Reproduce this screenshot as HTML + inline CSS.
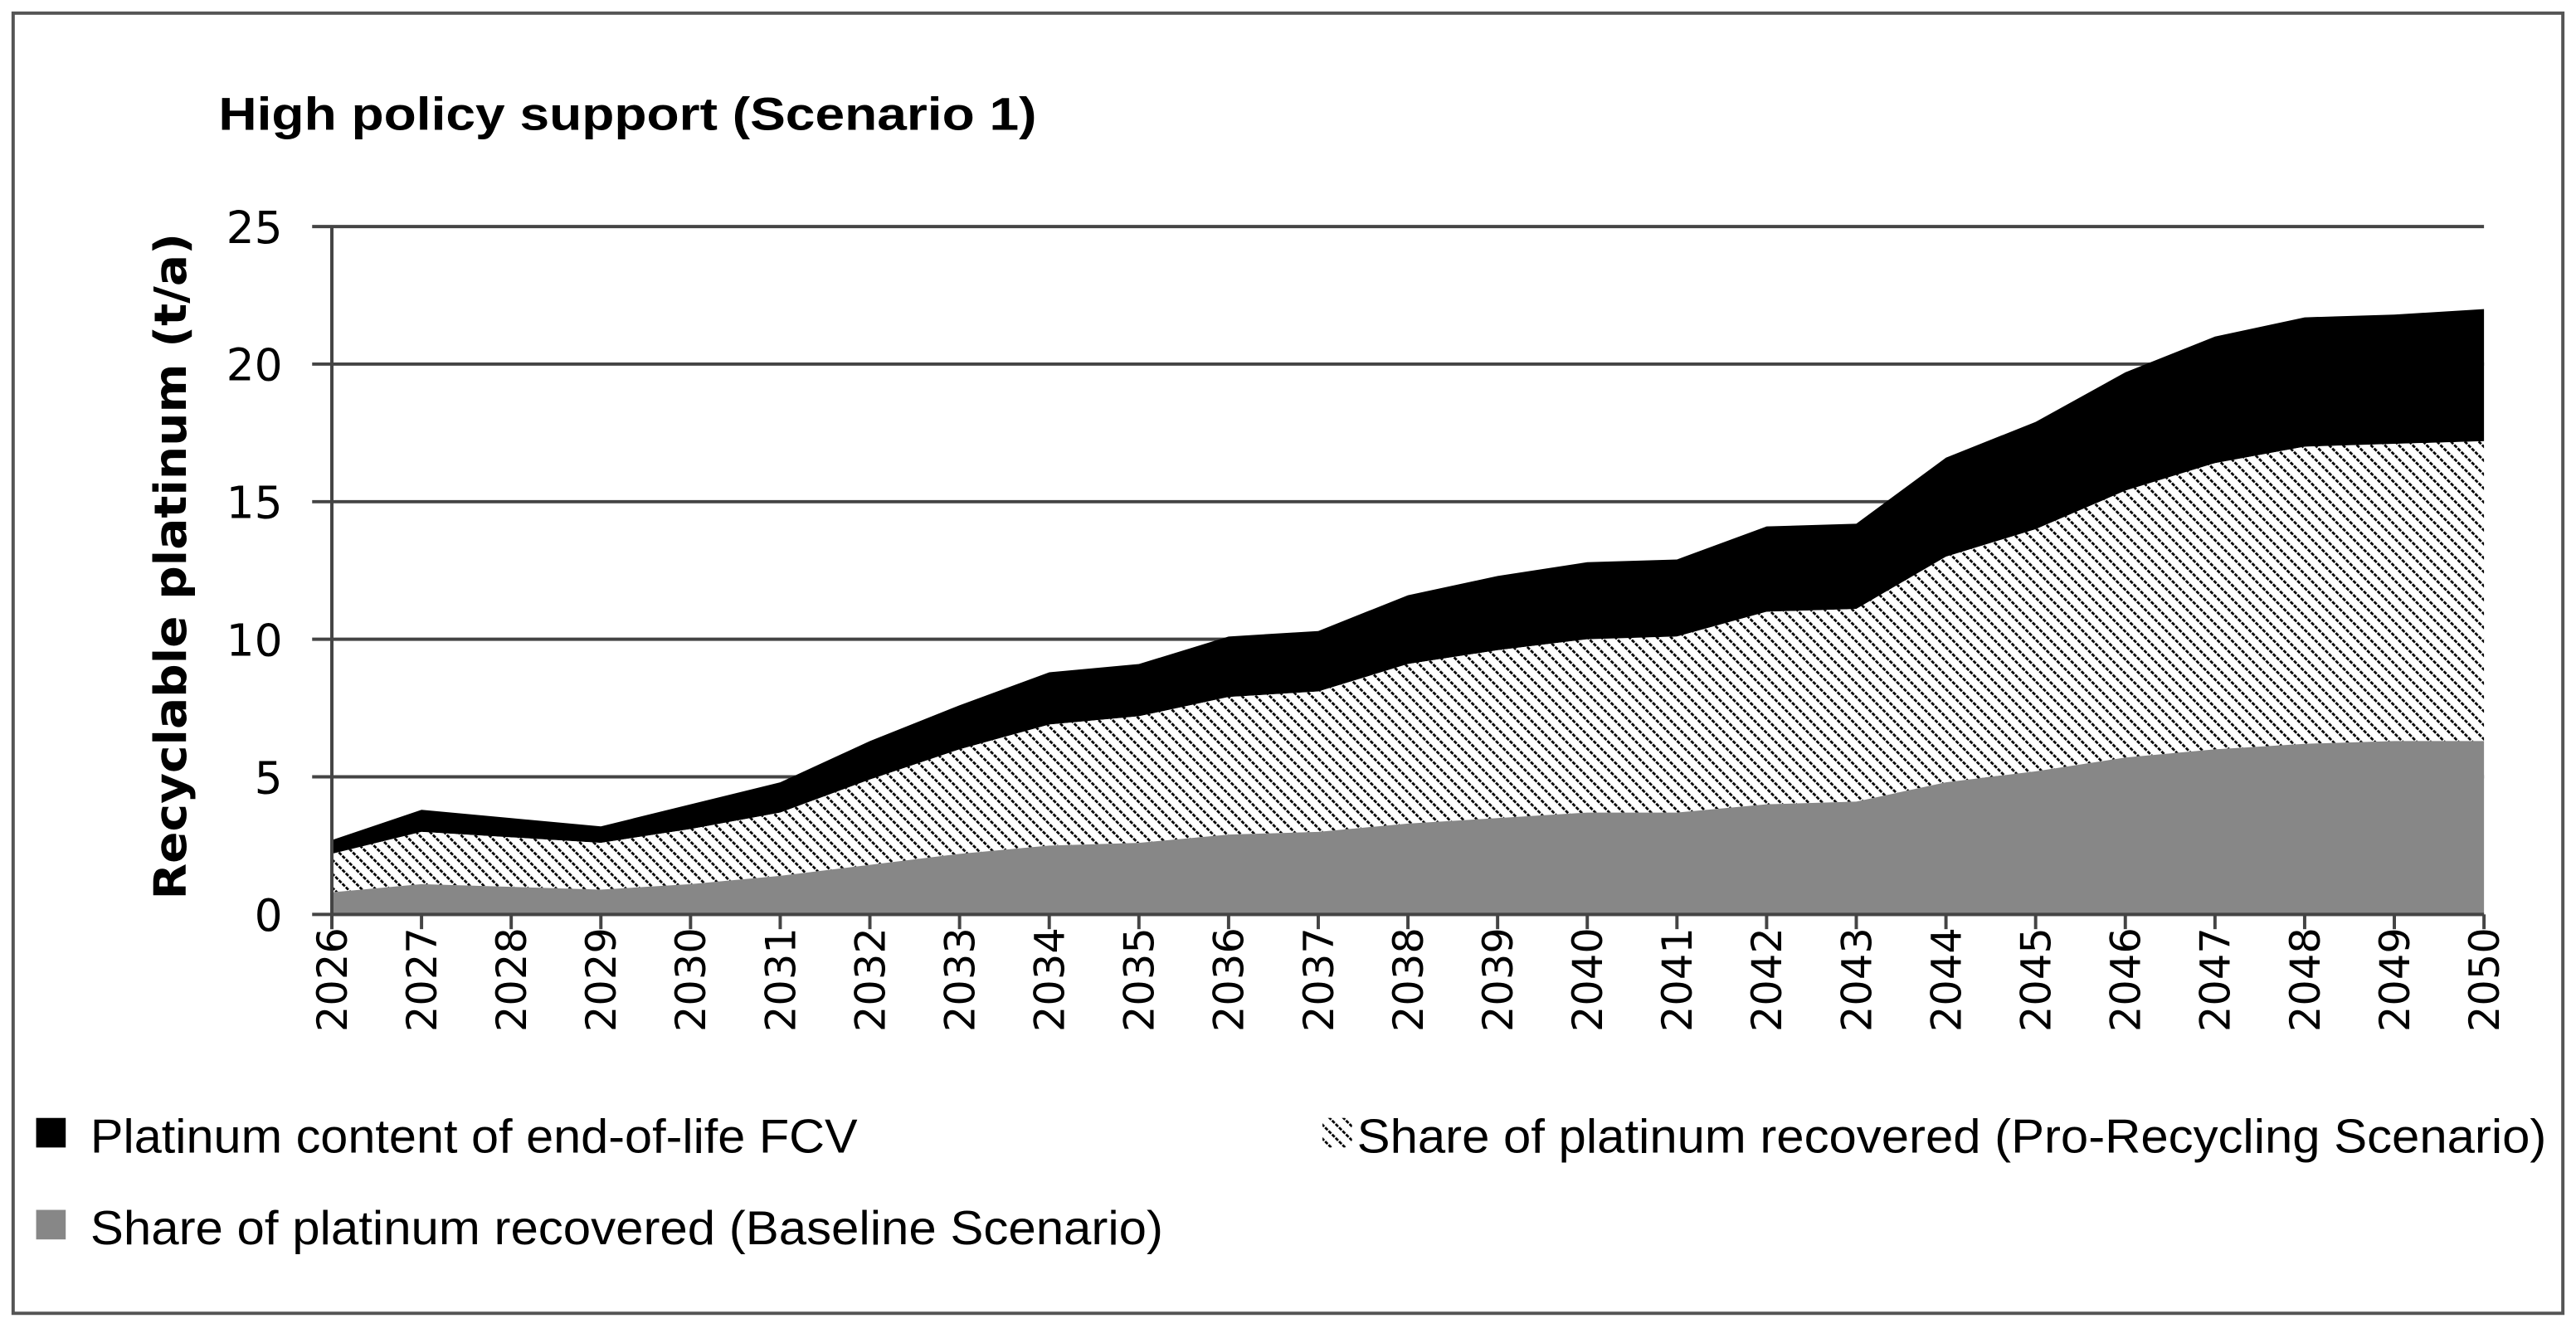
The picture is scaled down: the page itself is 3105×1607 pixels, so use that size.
<!DOCTYPE html>
<html><head><meta charset="utf-8"><style>
html,body{margin:0;padding:0;background:#fff;}
svg{display:block;}
</style></head><body>
<svg id="chart" width="3105" height="1607" viewBox="0 0 1568 812" preserveAspectRatio="none" xmlns="http://www.w3.org/2000/svg">
<defs>
<pattern id="hatch" patternUnits="userSpaceOnUse" width="6" height="6" patternTransform="rotate(-45)">
<rect width="6" height="6" fill="#fff"/>
<line x1="0" y1="0" x2="0" y2="6" stroke="#000" stroke-width="2.8" stroke-dasharray="2.2 0.8"/>
</pattern>
</defs>
<rect x="8" y="8" width="1552" height="792" fill="#fff" stroke="#555" stroke-width="2"/>
<text x="133" y="79" font-family="Liberation Sans, sans-serif" font-weight="bold" font-size="28" textLength="498" lengthAdjust="spacingAndGlyphs">High policy support (Scenario 1)</text>
<g id="grid"></g>
<g id="areas"></g>
<g id="axes"></g>
<text transform="translate(113,345) rotate(-90)" text-anchor="middle" font-family="DejaVu Sans, sans-serif" font-weight="bold" font-size="27" textLength="406" lengthAdjust="spacingAndGlyphs">Recyclable platinum (t/a)</text>
<g font-family="Liberation Sans, sans-serif" font-size="29">
<rect x="22" y="681" width="18" height="18" fill="#000"/>
<text x="55" y="702" textLength="467" lengthAdjust="spacingAndGlyphs">Platinum content of end-of-life FCV</text>
<rect x="805" y="681" width="18" height="18" fill="url(#hatch)"/>
<text x="826" y="702" textLength="724" lengthAdjust="spacingAndGlyphs">Share of platinum recovered (Pro-Recycling Scenario)</text>
<rect x="22" y="737" width="18" height="18" fill="#878787"/>
<text x="55" y="758" textLength="653" lengthAdjust="spacingAndGlyphs">Share of platinum recovered (Baseline Scenario)</text>
</g>
</svg>
<script>
const years = [2026,2027,2028,2029,2030,2031,2032,2033,2034,2035,2036,2037,2038,2039,2040,2041,2042,2043,2044,2045,2046,2047,2048,2049,2050];
const totalEol = [2.7,3.8,3.5,3.2,4.0,4.8,6.3,7.6,8.8,9.1,10.1,10.3,11.6,12.3,12.8,12.9,14.1,14.2,16.6,17.9,19.7,21.0,21.7,21.8,22.0];
const proRecycling = [2.2,3.0,2.8,2.6,3.1,3.7,4.9,6.0,6.9,7.2,7.9,8.1,9.1,9.6,10.0,10.1,11.0,11.1,13.0,14.0,15.4,16.4,17.0,17.1,17.2];
const baseline = [0.8,1.1,1.0,0.9,1.1,1.4,1.8,2.2,2.5,2.6,2.9,3.0,3.3,3.5,3.7,3.7,4.0,4.1,4.8,5.2,5.7,6.0,6.2,6.3,6.3];
const yTicks = [0,5,10,15,20,25];

const NS='http://www.w3.org/2000/svg';
const X0=202,X1=1512,Y0=557,Y1=138,YMAX=25;
const xs=i=>X0+(X1-X0)*i/(years.length-1);
const ys=v=>Y0-(Y0-Y1)*v/YMAX;
function mk(tag,attrs,parent){const e=document.createElementNS(NS,tag);for(const k in attrs)e.setAttribute(k,attrs[k]);parent.appendChild(e);return e;}
const grid=document.getElementById('grid'),areas=document.getElementById('areas'),axes=document.getElementById('axes');

yTicks.forEach(t=>{
  const l=mk('line',{x1:190,x2:X1,y1:ys(t),y2:ys(t),stroke:'#444','stroke-width':2},grid);
  
  
  const tx=mk('text',{x:172,y:ys(t)+10,'text-anchor':'end','font-family':'DejaVu Sans, sans-serif','font-size':27},axes);
  tx.textContent=t;
  
  
});

function area(top,bottom,fill,name){
  let d='M'+xs(0)+','+ys(top[0]);
  for(let i=1;i<years.length;i++)d+='L'+xs(i)+','+ys(top[i]);
  for(let i=years.length-1;i>=0;i--)d+='L'+xs(i)+','+ys(bottom?bottom[i]:0);
  d+='Z';
  const p=mk('path',{d:d,fill:fill},areas);
  
  
}
area(totalEol,proRecycling,'#000','area-end-of-life-fcv');
area(proRecycling,baseline,'url(#hatch)','area-pro-recycling');
area(baseline,null,'#878787','area-baseline');

const ax=mk('line',{x1:X0,x2:X0,y1:Y1,y2:Y0+9,stroke:'#444','stroke-width':2},axes);


const bx=mk('line',{x1:X0,x2:X1,y1:Y0,y2:Y0,stroke:'#444','stroke-width':2},axes);


years.forEach((yr,i)=>{
  const tk=mk('line',{x1:xs(i),x2:xs(i),y1:Y0,y2:Y0+9,stroke:'#444','stroke-width':2},axes);
  
  
  const tx=mk('text',{transform:'translate('+(xs(i)+9)+',565) rotate(-90)','text-anchor':'end','font-family':'DejaVu Sans, sans-serif','font-size':25},axes);
  tx.textContent=yr;
  
  
});
</script>
</body></html>
